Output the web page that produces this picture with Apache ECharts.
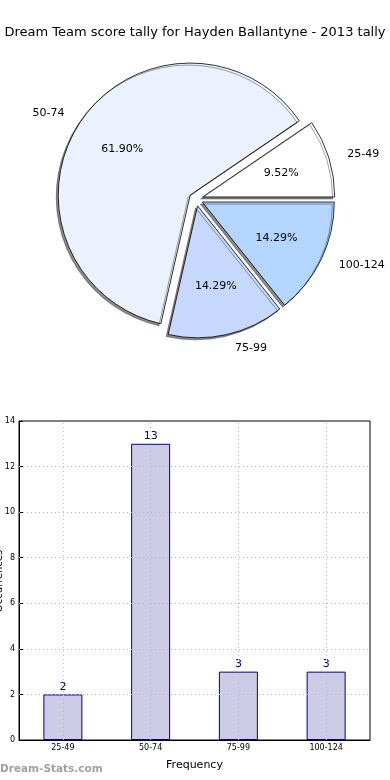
<!DOCTYPE html>
<html>
<head>
<meta charset="utf-8">
<script src="https://cdn.jsdelivr.net/npm/echarts@6/dist/echarts.min.js"></script>
<style>
html,body{margin:0;padding:0;background:#fff;}
#c{width:390px;height:780px;}
</style>
</head>
<body>
<div id="c"></div>
<script>
const titleText = 'Dream Team score tally for Hayden Ballantyne - 2013 tally';
const categories = ['25-49', '50-74', '75-99', '100-124'];
const counts = [2, 13, 3, 3];
const pieColors = ['#ffffff', '#ebf2fe', '#c6d8fe', '#b3d5fe'];
const yTicks = [2, 4, 6, 8, 10, 12];
const xName = 'Frequency';
const yName = 'Occurrences';
const watermark = 'Dream-Stats.com';

const total = counts.reduce((a, b) => a + b, 0);
const FONT = 'DejaVu Sans';
const R = 132;
const C = [196, 199];

const pieData = categories.map((c, i) => ({
  name: c, value: counts[i], selected: true,
  itemStyle: { color: pieColors[i] }
}));
const pctData = categories.map((c, i) => ({
  name: c, value: counts[i], selected: true
}));

const chart = echarts.init(document.getElementById('c'), null, { renderer: 'canvas' });
chart.setOption({
  animation: false,
  backgroundColor: '#fff',
  title: {
    text: titleText, left: 'center', top: 21,
    textStyle: { fontFamily: FONT, fontSize: 13, fontWeight: 'normal', color: '#000' }
  },
  graphic: [{
    type: 'text', left: 0, top: 764,
    style: { text: watermark, fontFamily: FONT, fontSize: 10.5, fontWeight: 'bold', fill: '#a0a0a0' }
  }, {
    type: 'text', x: -1, y: 581, rotation: Math.PI / 2,
    style: { text: yName, fontFamily: FONT, fontSize: 10, fill: '#000', align: 'center', verticalAlign: 'middle' }
  }],
  grid: {
    left: 19, right: 20, top: 421, bottom: 40,
    containLabel: false, outerBoundsMode: 'none',
    show: true, borderColor: '#000', borderWidth: 1
  },
  xAxis: {
    type: 'category', data: categories,
    name: xName, nameLocation: 'middle', nameGap: 20,
    nameTextStyle: { fontFamily: FONT, fontSize: 11, color: '#000' },
    axisLine: { lineStyle: { color: '#000' } },
    axisTick: { alignWithLabel: true, inside: true, length: 4, lineStyle: { color: '#000' } },
    axisLabel: { fontFamily: FONT, fontSize: 8, color: '#000', margin: 4 },
    splitLine: { show: false }
  },
  yAxis: {
    type: 'value', min: 0, max: 14, interval: 2,
    axisLine: { show: true, lineStyle: { color: '#000' } },
    axisTick: { show: true, inside: true, length: 4, lineStyle: { color: '#000' } },
    axisLabel: { fontFamily: FONT, fontSize: 8, color: '#000', margin: 4 },
    splitLine: { show: false }
  },
  series: [
    {
      type: 'pie',
      center: C, radius: [0, R],
      startAngle: 0, clockwise: false,
      selectedMode: 'multiple', selectedOffset: 7,
      silent: true,
      data: pieData,
      itemStyle: {
        borderColor: '#000', borderWidth: 0.8,
        shadowColor: 'rgba(0,0,0,0.45)', shadowBlur: 0.5, shadowOffsetX: -2, shadowOffsetY: 2
      },
      label: {
        show: true, position: 'outside', formatter: '{b}',
        fontFamily: FONT, fontSize: 11, color: '#000'
      },
      labelLine: { show: false, length: 14, length2: 0 },
      emphasis: { disabled: true }
    },
    {
      type: 'pie',
      center: C, radius: [0, R * 1.2],
      startAngle: 0, clockwise: false,
      selectedMode: 'multiple', selectedOffset: 7,
      silent: true,
      data: pctData,
      itemStyle: { color: 'rgba(0,0,0,0)', borderWidth: 0 },
      label: {
        show: true, position: 'inside',
        formatter: p => (p.value / total * 100).toFixed(2) + '%',
        fontFamily: FONT, fontSize: 11, color: '#000'
      },
      labelLine: { show: false },
      emphasis: { disabled: true }
    },
    {
      type: 'bar',
      data: counts,
      barWidth: 39,
      itemStyle: { color: '#ccccE6', borderColor: '#00008b', borderWidth: 1 },
      label: {
        show: true, position: 'top', distance: 2,
        fontFamily: FONT, fontSize: 11, color: '#00008b'
      },
      markLine: {
        silent: true, symbol: 'none',
        label: { show: false },
        lineStyle: { color: '#bbbbbb', type: [1, 3], width: 1 },
        emphasis: { disabled: true },
        data: yTicks.map(v => ({ yAxis: v })).concat(categories.map(c => ({ xAxis: c })))
      }
    }
  ]
});
</script>
</body>
</html>
